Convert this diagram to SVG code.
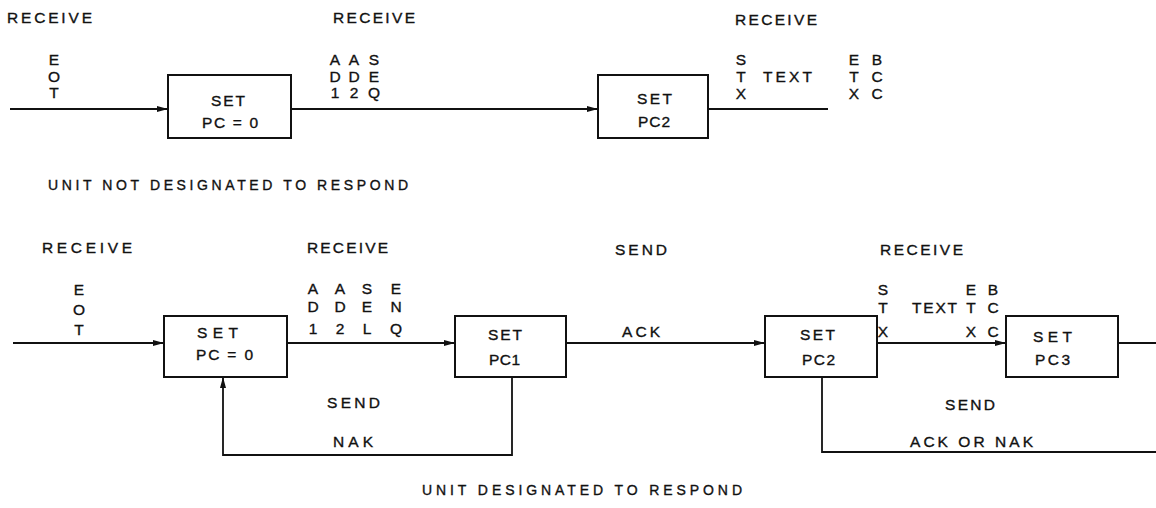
<svg xmlns="http://www.w3.org/2000/svg" width="1156" height="508" viewBox="0 0 1156 508">
<defs>
<style>
text{font-family:"Liberation Sans",Arial,sans-serif;font-size:15.5px;fill:#111;stroke:#111;stroke-width:0.35px;}
.c{text-anchor:middle;}
.cap{font-size:14px;}
.box{fill:#fff;stroke:#111;stroke-width:2;}
.ln{fill:none;stroke:#111;stroke-width:1.8;}
</style>
<marker id="ah" markerUnits="userSpaceOnUse" markerWidth="12" markerHeight="8" refX="11" refY="4" orient="auto">
<path d="M0,1 L11,4 L0,7 Z" fill="#111"/>
</marker>
</defs>
<rect width="1156" height="508" fill="#fff"/>

<g id="connectors">
<path class="ln" d="M10,109 H168" marker-end="url(#ah)"/>
<path class="ln" d="M291,109 H598" marker-end="url(#ah)"/>
<path class="ln" d="M708,109 H828"/>
<path class="ln" d="M13,343 H164" marker-end="url(#ah)"/>
<path class="ln" d="M287,343 H455" marker-end="url(#ah)"/>
<path class="ln" d="M566,343 H765" marker-end="url(#ah)"/>
<path class="ln" d="M877,343 H1006" marker-end="url(#ah)"/>
<path class="ln" d="M1118,343 H1156"/>
<path class="ln" d="M512,377 V455 H223 V377" marker-end="url(#ah)"/>
<path class="ln" d="M822,377 V452 H1156"/>
</g>

<g id="top-set-pc0">
<rect class="box" x="168" y="75" width="123" height="63"/>
<text x="211" y="106" textLength="34" lengthAdjust="spacing">SET</text>
<text x="202" y="128" textLength="56" lengthAdjust="spacing">PC = 0</text>
</g>
<g id="top-set-pc2">
<rect class="box" x="598" y="75" width="110" height="63"/>
<text x="637" y="104" textLength="35" lengthAdjust="spacing">SET</text>
<text x="638" y="127" textLength="32" lengthAdjust="spacing">PC2</text>
</g>

<g id="top-labels">
<text x="7" y="23" textLength="85" lengthAdjust="spacing">RECEIVE</text>
<text x="333" y="23" textLength="82" lengthAdjust="spacing">RECEIVE</text>
<text x="735" y="25" textLength="82" lengthAdjust="spacing">RECEIVE</text>
<text class="c" x="54" y="65">E</text><text class="c" x="54" y="82">O</text><text class="c" x="54" y="98">T</text>
<text class="c" x="335" y="65">A</text><text class="c" x="335" y="82">D</text><text class="c" x="335" y="98">1</text>
<text class="c" x="354" y="65">A</text><text class="c" x="354" y="82">D</text><text class="c" x="354" y="98">2</text>
<text class="c" x="374" y="65">S</text><text class="c" x="374" y="82">E</text><text class="c" x="374" y="98">Q</text>
<text class="c" x="741" y="65">S</text><text class="c" x="741" y="82">T</text><text class="c" x="741" y="99">X</text>
<text x="763" y="82" textLength="49" lengthAdjust="spacing">TEXT</text>
<text class="c" x="854" y="65">E</text><text class="c" x="854" y="82">T</text><text class="c" x="854" y="99">X</text>
<text class="c" x="877" y="65">B</text><text class="c" x="877" y="82">C</text><text class="c" x="877" y="99">C</text>
<text class="cap" x="48" y="190" textLength="360" lengthAdjust="spacing">UNIT NOT DESIGNATED TO RESPOND</text>
</g>

<g id="bot-set-pc0">
<rect class="box" x="164" y="316" width="123" height="61"/>
<text x="197" y="338" textLength="41" lengthAdjust="spacing">SET</text>
<text x="196" y="360" textLength="57" lengthAdjust="spacing">PC = 0</text>
</g>
<g id="bot-set-pc1">
<rect class="box" x="455" y="316" width="111" height="61"/>
<text x="488" y="340" textLength="34" lengthAdjust="spacing">SET</text>
<text x="489" y="365" textLength="31" lengthAdjust="spacing">PC1</text>
</g>
<g id="bot-set-pc2">
<rect class="box" x="765" y="316" width="112" height="61"/>
<text x="800" y="340" textLength="35" lengthAdjust="spacing">SET</text>
<text x="802" y="365" textLength="33" lengthAdjust="spacing">PC2</text>
</g>
<g id="bot-set-pc3">
<rect class="box" x="1006" y="316" width="112" height="61"/>
<text x="1033" y="342" textLength="39" lengthAdjust="spacing">SET</text>
<text x="1035" y="365" textLength="35" lengthAdjust="spacing">PC3</text>
</g>

<g id="bottom-labels">
<text x="42" y="253" textLength="90" lengthAdjust="spacing">RECEIVE</text>
<text x="307" y="253" textLength="81" lengthAdjust="spacing">RECEIVE</text>
<text x="615" y="255" textLength="52" lengthAdjust="spacing">SEND</text>
<text x="880" y="255" textLength="83" lengthAdjust="spacing">RECEIVE</text>
<text class="c" x="79" y="295">E</text><text class="c" x="79" y="315">O</text><text class="c" x="79" y="335">T</text>
<text class="c" x="313" y="294">A</text><text class="c" x="313" y="312">D</text><text class="c" x="313" y="334">1</text>
<text class="c" x="340" y="294">A</text><text class="c" x="340" y="312">D</text><text class="c" x="340" y="334">2</text>
<text class="c" x="367" y="294">S</text><text class="c" x="367" y="312">E</text><text class="c" x="367" y="334">L</text>
<text class="c" x="396" y="294">E</text><text class="c" x="396" y="312">N</text><text class="c" x="396" y="334">Q</text>
<text x="622" y="337" textLength="38" lengthAdjust="spacing">ACK</text>
<text class="c" x="883" y="295">S</text><text class="c" x="883" y="313">T</text><text class="c" x="883" y="337">X</text>
<text x="912" y="313" textLength="45" lengthAdjust="spacing">TEXT</text>
<text class="c" x="971" y="295">E</text><text class="c" x="971" y="313">T</text><text class="c" x="971" y="337">X</text>
<text class="c" x="993" y="295">B</text><text class="c" x="993" y="313">C</text><text class="c" x="993" y="337">C</text>
<text x="327" y="408" textLength="53" lengthAdjust="spacing">SEND</text>
<text x="333" y="447" textLength="40" lengthAdjust="spacing">NAK</text>
<text x="945" y="410" textLength="50" lengthAdjust="spacing">SEND</text>
<text x="910" y="447" textLength="123" lengthAdjust="spacing">ACK OR NAK</text>
<text class="cap" x="422" y="495" textLength="320" lengthAdjust="spacing">UNIT DESIGNATED TO RESPOND</text>
</g>
</svg>
